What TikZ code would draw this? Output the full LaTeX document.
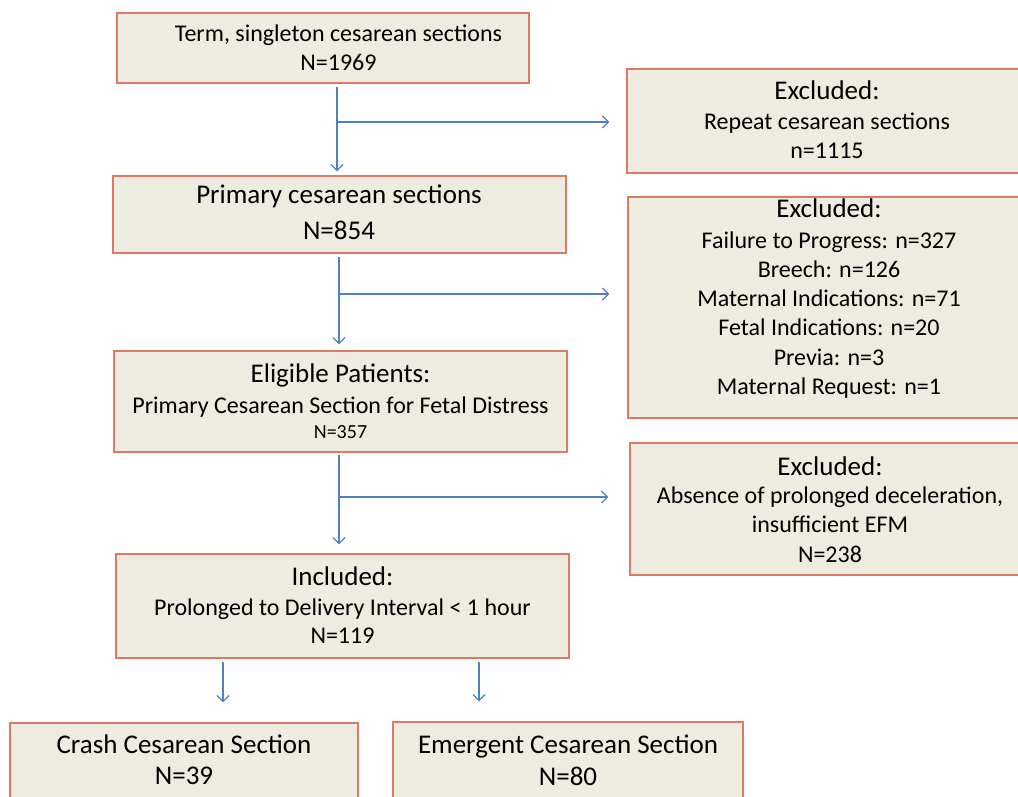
\documentclass[tikz,border=0pt]{standalone}
\usepackage{fontspec}
\setmainfont{Carlito}
\usetikzlibrary{arrows.meta}
\definecolor{boxfill}{HTML}{EEECE1}
\definecolor{boxline}{HTML}{DE7A64}
\definecolor{arrowblue}{HTML}{4F81BD}
\tikzset{
  box/.style={draw=boxline, fill=boxfill, line width=1.3pt, rectangle, inner sep=0pt},
  arr/.style={draw=arrowblue, line width=1.3pt, -{Straight Barb[length=6pt,width=12pt,line width=1.3pt]}},
  txt/.style={anchor=base, inner sep=0pt},
  big/.style={txt, font=\fontsize{27}{32}\selectfont},
  mid/.style={txt, font=\fontsize{24}{29}\selectfont},
  sml/.style={txt, font=\fontsize{20}{24}\selectfont},
}
\begin{document}
\begin{tikzpicture}[x=1pt,y=-1pt]
\useasboundingbox (0,0) rectangle (1018,797);
\clip (0,0) rectangle (1018,797);
% boxes
\node[box, minimum width=412pt, minimum height=70pt] (A) at (323,48) {};
\node[box, minimum width=453pt, minimum height=77pt] (B) at (339.5,214.5) {};
\node[box, minimum width=453pt, minimum height=101pt] (C) at (340.5,401.5) {};
\node[box, minimum width=453pt, minimum height=104pt] (D) at (342.5,606) {};
\node[box, minimum width=400pt, minimum height=104pt] (E1) at (827,121) {};
\node[box, minimum width=402pt, minimum height=221pt] (E2) at (829,307.5) {};
\node[box, minimum width=400pt, minimum height=132pt] (E3) at (830,509) {};
\node[box, minimum width=348pt, minimum height=100pt] (F1) at (184,773) {};
\node[box, minimum width=350pt, minimum height=100pt] (F2) at (568,772) {};
% texts
\node[mid] (A1) at (338.5,42) {Term, singleton cesarean sections};
\node[mid] (A2) at (338.5,71) {N=1969};
\node[big] (B1) at (339,204) {Primary cesarean sections};
\node[big] (B2) at (339,239) {N=854};
\node[big] (C1) at (340.5,382) {Eligible Patients:};
\node[mid] (C2) at (340.5,413) {Primary Cesarean Section for Fetal Distress};
\node[sml] (C3) at (340.5,438) {N=357};
\node[big] (D1) at (342.5,585) {Included:};
\node[mid] (D2) at (342.5,615) {Prolonged to Delivery Interval < 1 hour};
\node[mid] (D3) at (342.5,643) {N=119};
\node[big] (E1a) at (827,100) {Excluded:};
\node[mid] (E1b) at (827,130) {Repeat cesarean sections};
\node[mid] (E1c) at (827,159) {n=1115};
\node[big] (E2a) at (829,218) {Excluded:};
\node[mid] (E2b) at (829,248) {Failure to Progress: n=327};
\node[mid] (E2c) at (829,277) {Breech: n=126};
\node[mid] (E2d) at (829,306) {Maternal Indications: n=71};
\node[mid] (E2e) at (829,335) {Fetal Indications: n=20};
\node[mid] (E2f) at (829,365) {Previa: n=3};
\node[mid] (E2g) at (829,394) {Maternal Request: n=1};
\node[big] (E3a) at (830,475) {Excluded:};
\node[mid] (E3b) at (830,503) {Absence of prolonged deceleration,};
\node[mid] (E3c) at (830,532) {insufficient EFM};
\node[mid] (E3d) at (830,562) {N=238};
\node[big] (F1a) at (184,753) {Crash Cesarean Section};
\node[big] (F1b) at (184,784) {N=39};
\node[big] (F2a) at (568,753) {Emergent Cesarean Section};
\node[big] (F2b) at (568,785) {N=80};
% connectors
\coordinate (j1) at (337,122);
\coordinate (j2) at (339,294);
\coordinate (j3) at (339,497);
\coordinate (k1) at (223,660);
\coordinate (k2) at (479,660);
\draw[arr, shorten <=3pt, shorten >=4pt] (A.south -| j1) -- (B.north -| j1);
\draw[arr, shorten >=17pt] (j1) -- (E1.west |- j1);
\draw[arr, shorten <=3pt, shorten >=6pt] (B.south -| j2) -- (C.north -| j2);
\draw[arr, shorten >=18pt] (j2) -- (E2.west |- j2);
\draw[arr, shorten <=2pt, shorten >=9pt] (C.south -| j3) -- (D.north -| j3);
\draw[arr, shorten >=21pt] (j3) -- (E3.west |- j3);
\draw[arr, shorten <=3pt, shorten >=20pt] (D.south -| k1) -- (F1.north -| k1);
\draw[arr, shorten <=3pt, shorten >=20pt] (D.south -| k2) -- (F2.north -| k2);
\end{tikzpicture}
\end{document}
